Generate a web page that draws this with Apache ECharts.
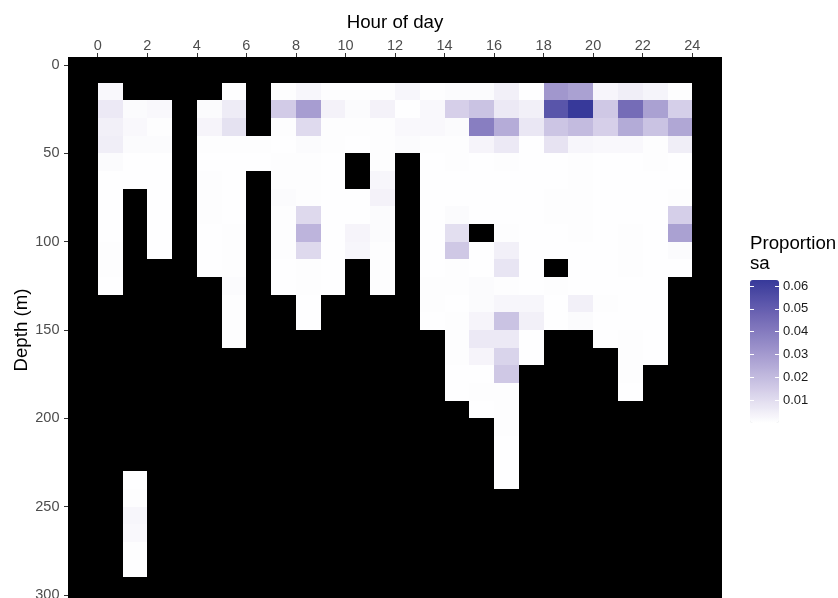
<!DOCTYPE html>
<html>
<head>
<meta charset="utf-8">
<script src="https://cdn.jsdelivr.net/npm/echarts@6/dist/echarts.min.js"></script>
<style>
  html, body { margin: 0; padding: 0; background: #ffffff; }
  #chart { width: 838px; height: 598px; }
</style>
</head>
<body>
<div id="chart"></div>
<script>
// Proportion of acoustic backscatter (sa) by hour of day and 10 m depth bin.
// Each bin starts at the listed depth; null marks a bin with no data.
const _ = null;

const hours = [0, 1, 2, 3, 4, 5, 6, 7, 8, 9, 10, 11, 12, 13, 14, 15, 16, 17, 18, 19, 20, 21, 22, 23];
const depths = [10, 20, 30, 40, 50, 60, 70, 80, 90, 100, 110, 120, 130, 140, 150, 160, 170, 180, 190, 200, 210, 220, 230, 240, 250, 260, 270, 280];

// one row per depth bin, one entry per hour
const saRows = [
  [0.0019, _, _, _, _, 0.0003, _, 0.0006, 0.0025, 0.0006, 0.0006, 0.0006, 0.0025, 0.0006, 0.0013, 0.0013, 0.0044, 0.0002, 0.0310, 0.0280, 0.0028, 0.0050, 0.0032, 0.0006],
  [0.0063, 0.0013, 0.0019, _, 0.0013, 0.0056, _, 0.0150, 0.0290, 0.0038, 0.0013, 0.0038, 0.0003, 0.0019, 0.0138, 0.0175, 0.0063, 0.0044, 0.0530, 0.0626, 0.0160, 0.0450, 0.0280, 0.0140],
  [0.0044, 0.0019, 0.0006, _, 0.0031, 0.0085, _, 0.0006, 0.0106, 0.0006, 0.0006, 0.0006, 0.0019, 0.0019, 0.0013, 0.0390, 0.0245, 0.0070, 0.0170, 0.0200, 0.0138, 0.0250, 0.0175, 0.0260],
  [0.0050, 0.0013, 0.0013, _, 0.0006, 0.0006, 0.0006, 0.0003, 0.0013, 0.0006, 0.0003, 0.0006, 0.0013, 0.0006, 0.0006, 0.0031, 0.0063, 0.0002, 0.0080, 0.0025, 0.0019, 0.0019, 0.0006, 0.0050],
  [0.0013, 0.0002, 0.0002, _, 0.0002, 0.0002, 0.0002, 0.0006, 0.0006, 0.0002, _, 0.0006, _, 0.0002, 0.0006, 0.0002, 0.0006, 0.0002, 0.0002, 0.0006, 0.0002, 0.0002, 0.0006, 0.0002],
  [0.0002, 0.0002, 0.0002, _, 0.0006, 0.0002, _, 0.0006, 0.0006, 0.0002, _, 0.0025, _, 0.0002, 0.0002, 0.0002, 0.0002, 0.0002, 0.0002, 0.0006, 0.0002, 0.0002, 0.0002, 0.0002],
  [0.0002, _, 0.0002, _, 0.0006, 0.0002, _, 0.0013, 0.0006, 0.0002, 0.0002, 0.0038, _, 0.0002, 0.0002, 0.0002, 0.0002, 0.0002, 0.0006, 0.0006, 0.0002, 0.0002, 0.0002, 0.0006],
  [0.0002, _, 0.0002, _, 0.0006, 0.0002, _, 0.0006, 0.0110, 0.0002, 0.0002, 0.0013, _, 0.0002, 0.0013, 0.0002, 0.0002, 0.0002, 0.0006, 0.0006, 0.0002, 0.0002, 0.0002, 0.0140],
  [0.0002, _, 0.0002, _, 0.0002, 0.0006, _, 0.0006, 0.0220, 0.0002, 0.0031, 0.0013, _, 0.0002, 0.0094, _, 0.0006, 0.0002, 0.0002, 0.0006, 0.0002, 0.0006, 0.0002, 0.0280],
  [0.0006, _, 0.0002, _, 0.0002, 0.0006, _, 0.0006, 0.0110, 0.0002, 0.0025, 0.0006, _, 0.0002, 0.0160, 0.0002, 0.0044, 0.0002, 0.0002, 0.0002, 0.0002, 0.0006, 0.0002, 0.0013],
  [0.0006, _, _, _, 0.0002, 0.0006, _, 0.0002, 0.0006, 0.0002, _, 0.0006, _, 0.0002, 0.0006, 0.0002, 0.0075, 0.0002, _, 0.0002, 0.0002, 0.0006, 0.0002, 0.0002],
  [0.0002, _, _, _, _, 0.0013, _, 0.0002, 0.0006, 0.0002, _, 0.0006, _, 0.0006, 0.0006, 0.0013, 0.0006, 0.0002, 0.0006, 0.0002, 0.0002, 0.0002, 0.0002, _],
  [_, _, _, _, _, 0.0006, _, _, 0.0002, _, _, _, _, 0.0006, 0.0002, 0.0013, 0.0025, 0.0025, 0.0002, 0.0044, 0.0006, 0.0002, 0.0002, _],
  [_, _, _, _, _, 0.0006, _, _, 0.0002, _, _, _, _, 0.0002, 0.0006, 0.0031, 0.0175, 0.0044, 0.0002, 0.0013, 0.0002, 0.0002, 0.0002, _],
  [_, _, _, _, _, 0.0006, _, _, _, _, _, _, _, _, 0.0006, 0.0063, 0.0063, 0.0002, _, _, 0.0002, 0.0006, 0.0002, _],
  [_, _, _, _, _, _, _, _, _, _, _, _, _, _, 0.0006, 0.0031, 0.0125, 0.0002, _, _, _, 0.0006, 0.0002, _],
  [_, _, _, _, _, _, _, _, _, _, _, _, _, _, 0.0002, 0.0002, 0.0160, _, _, _, _, 0.0006, _, _],
  [_, _, _, _, _, _, _, _, _, _, _, _, _, _, 0.0002, 0.0006, 0.0006, _, _, _, _, 0.0002, _, _],
  [_, _, _, _, _, _, _, _, _, _, _, _, _, _, _, 0.0002, 0.0006, _, _, _, _, _, _, _],
  [_, _, _, _, _, _, _, _, _, _, _, _, _, _, _, _, 0.0006, _, _, _, _, _, _, _],
  [_, _, _, _, _, _, _, _, _, _, _, _, _, _, _, _, 0.0002, _, _, _, _, _, _, _],
  [_, _, _, _, _, _, _, _, _, _, _, _, _, _, _, _, 0.0002, _, _, _, _, _, _, _],
  [_, 0.0002, _, _, _, _, _, _, _, _, _, _, _, _, _, _, 0.0002, _, _, _, _, _, _, _],
  [_, 0.0006, _, _, _, _, _, _, _, _, _, _, _, _, _, _, _, _, _, _, _, _, _, _],
  [_, 0.0025, _, _, _, _, _, _, _, _, _, _, _, _, _, _, _, _, _, _, _, _, _, _],
  [_, 0.0019, _, _, _, _, _, _, _, _, _, _, _, _, _, _, _, _, _, _, _, _, _, _],
  [_, 0.0006, _, _, _, _, _, _, _, _, _, _, _, _, _, _, _, _, _, _, _, _, _, _],
  [_, 0.0002, _, _, _, _, _, _, _, _, _, _, _, _, _, _, _, _, _, _, _, _, _, _]
];

const hourTicks = [0, 2, 4, 6, 8, 10, 12, 14, 16, 18, 20, 22, 24];
const depthTicks = [0, 50, 100, 150, 200, 250, 300];
const legendTicks = [0.01, 0.02, 0.03, 0.04, 0.05, 0.06];
const saMin = 0;
const saMax = 0.0626;

// white -> dark slate blue, sampled along a perceptual ramp
const ramp = ['#ffffff', '#d0c9e6', '#a096cd', '#6f66b4', '#37399a'];

const cells = [];
depths.forEach((d, r) => {
  saRows[r].forEach((v, c) => {
    if (v !== null) cells.push([hours[c], d, v]);
  });
});

const font = '"Liberation Sans", Arial, Helvetica, sans-serif';
const titleSize = 18.7;
const tickSize = 14.5;
const chart = echarts.init(document.getElementById('chart'), null, { renderer: 'canvas' });

chart.setOption({
  animation: false,
  backgroundColor: '#ffffff',
  title: {
    text: 'Proportion\nsa',
    left: 750,
    top: 234,
    padding: 0,
    textStyle: { fontFamily: font, fontSize: titleSize, fontWeight: 'normal', color: '#000000', lineHeight: 20 }
  },
  grid: [
    { left: 68, top: 57, width: 654, height: 546, show: true, backgroundColor: '#000000', borderWidth: 0, outerBoundsMode: 'none', containLabel: false },
    { left: 750, top: 280, width: 29, height: 143, outerBoundsMode: 'none', containLabel: false }
  ],
  xAxis: [
    {
      type: 'value', gridIndex: 0, position: 'top',
      min: -1.2, max: 25.2,
      name: 'Hour of day', nameLocation: 'middle', nameGap: 25, nameMoveOverlap: false,
      nameTextStyle: { fontFamily: font, fontSize: titleSize, color: '#000000' },
      axisLine: { show: false, onZero: false },
      splitLine: { show: false },
      axisTick: { show: true, inside: false, length: 4, lineStyle: { color: '#333333' }, customValues: hourTicks },
      axisLabel: { customValues: hourTicks, fontFamily: font, fontSize: tickSize, color: '#4d4d4d', margin: 3.5 }
    },
    { type: 'value', gridIndex: 1, show: false, min: 0, max: 1, axisLine: { onZero: false } }
  ],
  yAxis: [
    {
      type: 'value', gridIndex: 0, inverse: true, position: 'left',
      min: -4.5, max: 304.5,
      name: 'Depth (m)', nameLocation: 'middle', nameGap: 37, nameRotate: 90, nameMoveOverlap: false,
      nameTextStyle: { fontFamily: font, fontSize: titleSize, color: '#000000' },
      axisLine: { show: false, onZero: false },
      splitLine: { show: false },
      axisTick: { show: true, inside: false, length: 4, lineStyle: { color: '#333333' }, customValues: depthTicks },
      axisLabel: { customValues: depthTicks, fontFamily: font, fontSize: tickSize, color: '#4d4d4d', margin: 8.5 }
    },
    {
      type: 'value', gridIndex: 1, position: 'right', min: saMin, max: saMax, z: 10,
      axisLine: { show: false, onZero: false },
      splitLine: { show: false },
      axisTick: { show: true, inside: true, length: 4, lineStyle: { color: '#ffffff' }, customValues: legendTicks },
      axisLabel: {
        customValues: legendTicks, formatter: (v) => v.toFixed(2),
        fontFamily: font, fontSize: 13, color: '#1a1a1a', margin: 4
      }
    },
    {
      type: 'value', gridIndex: 1, position: 'left', min: saMin, max: saMax, z: 10,
      axisLine: { show: false, onZero: false },
      splitLine: { show: false },
      axisTick: { show: true, inside: true, length: 4, lineStyle: { color: '#ffffff' }, customValues: legendTicks },
      axisLabel: { show: false }
    }
  ],
  visualMap: {
    type: 'continuous',
    min: saMin, max: saMax,
    dimension: 2,
    seriesIndex: 0,
    calculable: false,
    hoverLink: false,
    left: 750, top: 280,
    itemWidth: 29, itemHeight: 143,
    padding: 0,
    inRange: { color: ramp }
  },
  series: [{
    type: 'custom',
    xAxisIndex: 0,
    yAxisIndex: 0,
    data: cells,
    encode: { x: 0, y: 1 },
    renderItem: function (params, api) {
      const h = api.value(0);
      const d = api.value(1);
      const a = api.coord([h, d]);
      const b = api.coord([h + 1, d + 10]);
      const x0 = Math.round(Math.min(a[0], b[0]));
      const x1 = Math.round(Math.max(a[0], b[0]));
      const y0 = Math.round(Math.min(a[1], b[1]));
      const y1 = Math.round(Math.max(a[1], b[1]));
      return {
        type: 'rect',
        shape: { x: x0, y: y0, width: x1 - x0, height: y1 - y0 },
        style: { fill: api.visual('color') }
      };
    }
  }]
});
</script>
</body>
</html>
